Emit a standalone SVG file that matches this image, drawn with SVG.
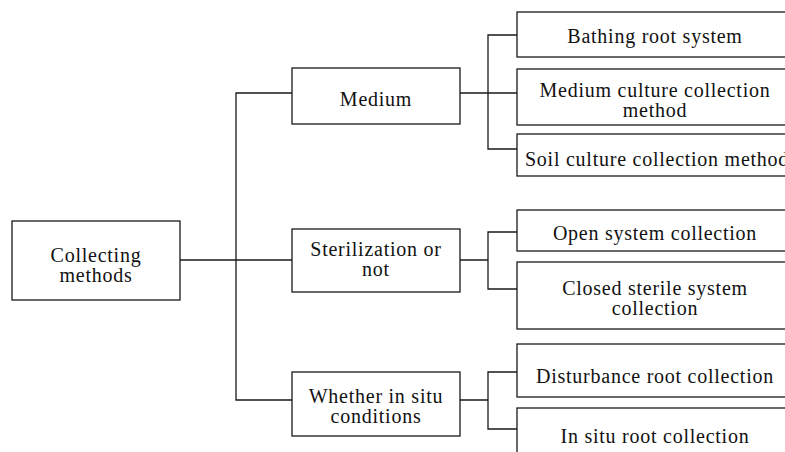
<svg xmlns="http://www.w3.org/2000/svg" width="785" height="452" viewBox="0 0 785 452">
  <style>
    .box { fill: #ffffff; stroke: #1a1a1a; stroke-width: 1.3; }
    .lbl { font-family: "Liberation Serif", serif; font-size: 20px; letter-spacing: 0.75px; fill: #111111; text-anchor: middle; }
    .wire { fill: none; stroke: #1a1a1a; stroke-width: 1.3; }
  </style>
  <rect width="785" height="452" fill="#ffffff"/>

  <!-- connectors -->
  <g id="connectors">
    <path class="wire" d="M180 260 H292"/>
    <path class="wire" d="M292 93 H236 V400 H292"/>
    <path class="wire" d="M460 93 H488 M517 35 H488 V149 H517 M488 93 H517"/>
    <path class="wire" d="M460 260 H488 M517 232 H488 V289 H517"/>
    <path class="wire" d="M460 400 H488 M517 372 H488 V429 H517"/>
  </g>

  <!-- root -->
  <g id="collecting-methods">
    <rect class="box" x="12" y="221" width="168" height="79"/>
    <text class="lbl" x="96" y="262">Collecting</text>
    <text class="lbl" x="96" y="282">methods</text>
  </g>

  <!-- second level -->
  <g id="medium">
    <rect class="box" x="292" y="68" width="168" height="56"/>
    <text class="lbl" x="376" y="106">Medium</text>
  </g>
  <g id="sterilization">
    <rect class="box" x="292" y="229" width="168" height="63"/>
    <text class="lbl" x="376" y="256">Sterilization or</text>
    <text class="lbl" x="376" y="276">not</text>
  </g>
  <g id="in-situ">
    <rect class="box" x="292" y="372" width="168" height="64"/>
    <text class="lbl" x="376" y="403">Whether in situ</text>
    <text class="lbl" x="376" y="423">conditions</text>
  </g>

  <!-- third level -->
  <g id="bathing">
    <rect class="box" x="517" y="12" width="280" height="45"/>
    <text class="lbl" x="655" y="43">Bathing root system</text>
  </g>
  <g id="medium-culture">
    <rect class="box" x="517" y="69" width="280" height="56"/>
    <text class="lbl" x="655" y="97">Medium culture collection</text>
    <text class="lbl" x="655" y="117">method</text>
  </g>
  <g id="soil-culture">
    <rect class="box" x="517" y="134" width="280" height="42"/>
    <text class="lbl" x="525" y="166" style="text-anchor:start">Soil culture collection method</text>
  </g>
  <g id="open-system">
    <rect class="box" x="517" y="210" width="280" height="41"/>
    <text class="lbl" x="655" y="240">Open system collection</text>
  </g>
  <g id="closed-sterile">
    <rect class="box" x="517" y="262" width="280" height="67"/>
    <text class="lbl" x="655" y="295">Closed sterile system</text>
    <text class="lbl" x="655" y="315">collection</text>
  </g>
  <g id="disturbance">
    <rect class="box" x="517" y="344" width="280" height="53"/>
    <text class="lbl" x="655" y="383">Disturbance root collection</text>
  </g>
  <g id="in-situ-root">
    <rect class="box" x="517" y="408" width="280" height="60"/>
    <text class="lbl" x="655" y="443">In situ root collection</text>
  </g>
</svg>
